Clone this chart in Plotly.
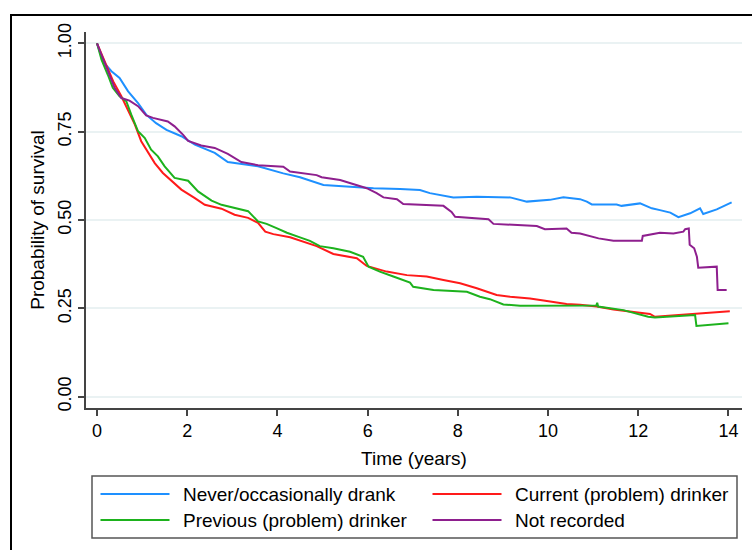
import plotly.graph_objects as go

# Survival estimates by alcohol history (time in years, probability of survival)
never_t = [0.0, 0.13, 0.32, 0.50, 0.69, 0.91, 1.09, 1.31, 1.54, 1.87, 2.17, 2.61, 2.90, 3.27, 3.57,
           4.13, 4.50, 5.02, 5.61, 6.13, 6.72, 7.16, 7.38, 7.90, 8.42, 9.16, 9.53, 10.04, 10.34,
           10.71, 10.86, 10.97, 11.52, 11.63, 12.04, 12.30, 12.48, 12.71, 12.89, 13.15, 13.37,
           13.44, 13.74, 14.07]
never_s = [1.0, 0.949, 0.921, 0.902, 0.864, 0.831, 0.798, 0.774, 0.755, 0.737, 0.713, 0.690, 0.664,
           0.658, 0.652, 0.632, 0.621, 0.599, 0.594, 0.590, 0.588, 0.585, 0.576, 0.564, 0.566,
           0.564, 0.552, 0.557, 0.564, 0.559, 0.552, 0.544, 0.544, 0.540, 0.547, 0.533, 0.528,
           0.521, 0.508, 0.519, 0.533, 0.517, 0.530, 0.550]

current_t = [0.0, 0.17, 0.36, 0.54, 0.69, 0.84, 0.98, 1.13, 1.28, 1.46, 1.65, 1.87, 2.17, 2.39, 2.76,
             3.05, 3.35, 3.57, 3.73, 3.91, 4.28, 4.50, 4.87, 5.24, 5.76, 5.98, 6.42, 6.87, 7.31,
             7.68, 8.05, 8.42, 8.86, 9.16, 9.60, 9.90, 10.41, 10.71, 11.08, 11.45, 11.78, 12.26,
             12.37, 14.03]
current_s = [1.0, 0.949, 0.892, 0.850, 0.812, 0.770, 0.723, 0.690, 0.661, 0.633, 0.610, 0.586, 0.562,
             0.543, 0.532, 0.515, 0.506, 0.492, 0.467, 0.460, 0.451, 0.441, 0.426, 0.404, 0.392,
             0.370, 0.354, 0.344, 0.340, 0.330, 0.321, 0.307, 0.288, 0.283, 0.278, 0.272, 0.262,
             0.260, 0.255, 0.247, 0.241, 0.234, 0.226, 0.242]

previous_t = [0.0, 0.10, 0.24, 0.35, 0.50, 0.65, 0.76, 0.91, 1.06, 1.20, 1.35, 1.50, 1.72, 2.02, 2.24,
              2.54, 2.76, 3.05, 3.35, 3.57, 3.76, 3.98, 4.21, 4.50, 4.72, 4.94, 5.24, 5.61, 5.90,
              6.02, 6.27, 6.57, 6.94, 7.01, 7.46, 8.20, 8.49, 8.71, 9.01, 9.38, 10.41, 11.07,
              11.09, 11.11, 11.67, 11.96, 12.22, 12.37, 12.80, 13.26, 13.29, 13.59, 14.0]
previous_s = [1.0, 0.954, 0.911, 0.874, 0.850, 0.836, 0.798, 0.751, 0.732, 0.699, 0.680, 0.652, 0.619,
              0.611, 0.581, 0.555, 0.543, 0.534, 0.525, 0.496, 0.489, 0.477, 0.464, 0.451, 0.441,
              0.426, 0.420, 0.410, 0.396, 0.368, 0.354, 0.340, 0.323, 0.311, 0.302, 0.297, 0.283,
              0.276, 0.261, 0.257, 0.258, 0.258, 0.266, 0.255, 0.245, 0.234, 0.226, 0.224, 0.227,
              0.231, 0.200, 0.203, 0.208]

notrec_t = [0.0, 0.17, 0.39, 0.54, 0.72, 0.91, 1.09, 1.24, 1.57, 1.72, 1.91, 2.02, 2.31, 2.61, 2.90,
            3.20, 3.57, 4.13, 4.28, 4.87, 4.98, 5.39, 5.68, 5.98, 6.20, 6.35, 6.65, 6.79, 7.68,
            7.86, 7.94, 8.68, 8.79, 9.75, 9.93, 10.41, 10.52, 10.71, 11.12, 11.45, 12.08, 12.10,
            12.48, 12.78, 13.00, 13.04, 13.12, 13.14, 13.24, 13.30, 13.33, 13.74, 13.76, 13.96]
notrec_s = [1.0, 0.944, 0.874, 0.845, 0.838, 0.822, 0.796, 0.789, 0.779, 0.765, 0.741, 0.724, 0.711,
            0.704, 0.687, 0.664, 0.655, 0.651, 0.637, 0.627, 0.621, 0.613, 0.602, 0.590, 0.576,
            0.564, 0.559, 0.545, 0.540, 0.523, 0.509, 0.502, 0.489, 0.483, 0.474, 0.476, 0.464,
            0.462, 0.448, 0.441, 0.441, 0.455, 0.464, 0.462, 0.467, 0.474, 0.476, 0.430, 0.420,
            0.396, 0.365, 0.368, 0.302, 0.302]

series = [
    ("Never/occasionally drank", never_t, never_s, "#1E90FF"),
    ("Current (problem) drinker", current_t, current_s, "#FF1A1A"),
    ("Previous (problem) drinker", previous_t, previous_s, "#1DB21D"),
    ("Not recorded", notrec_t, notrec_s, "#8E1F8E"),
]

y_ticks = [0.0, 0.25, 0.5, 0.75, 1.0]
y_tick_text = ["0.00", "0.25", "0.50", "0.75", "1.00"]
x_ticks = [0, 2, 4, 6, 8, 10, 12, 14]

FONT = "Liberation Sans, Arial, sans-serif"

# Plot-area geometry (pixels) used to place the frame and the key in paper units
W, H = 752, 550
ML, MR, MT, MB = 86, 10, 32, 142
PW, PH = W - ML - MR, H - MT - MB


def px_x(px):
    return (px - ML) / PW


def px_y(py):
    return (H - MB - py) / PH


fig = go.Figure()
for name, t, s, color in series:
    fig.add_trace(go.Scatter(
        x=t, y=s, mode="lines", name=name, showlegend=False,
        line=dict(color=color, width=2),
    ))

fig.update_layout(
    width=W, height=H,
    margin=dict(l=ML, r=MR, t=MT, b=MB, autoexpand=False),
    paper_bgcolor="white", plot_bgcolor="white",
    font=dict(family=FONT, size=18, color="#000000"),
    showlegend=False,
    xaxis=dict(
        range=[-0.244, 14.30], tickvals=x_ticks, showgrid=False, zeroline=False,
        showline=True, linecolor="#444444", linewidth=1.5,
        ticks="outside", ticklen=6, tickcolor="#444444", tickwidth=1.5,
        tickfont=dict(size=18),
        title=dict(text="Time (years)", font=dict(size=19), standoff=11),
    ),
    yaxis=dict(
        range=[-0.032, 1.032], tickvals=y_ticks, ticktext=y_tick_text, tickangle=-90,
        showgrid=True, gridcolor="#EAF2F3", gridwidth=1.5, zeroline=False,
        showline=True, linecolor="#444444", linewidth=1.5,
        ticks="outside", ticklen=6, tickcolor="#444444", tickwidth=1.5,
        tickfont=dict(size=18),
        title=dict(text="Probability of survival", font=dict(size=19), standoff=5),
    ),
)

# Outer frame around the graph region
fig.add_shape(type="rect", xref="paper", yref="paper",
              x0=px_x(11), x1=px_x(800), y0=px_y(600), y1=px_y(15),
              line=dict(color="#000000", width=2), fillcolor="rgba(0,0,0,0)", layer="below")

# Key: two columns, two rows, long line samples inside a bordered box
fig.add_shape(type="rect", xref="paper", yref="paper",
              x0=px_x(92), x1=px_x(737), y0=px_y(538), y1=px_y(476),
              line=dict(color="#555555", width=1.5), fillcolor="white")
key_cols = [100.5, 432.5]
key_rows = [494, 520]
for i, (name, _, _, color) in enumerate(series):
    cx = key_cols[i % 2]
    ry = key_rows[i // 2]
    fig.add_shape(type="line", xref="paper", yref="paper",
                  x0=px_x(cx), x1=px_x(cx + 69), y0=px_y(ry), y1=px_y(ry),
                  line=dict(color=color, width=2))
    fig.add_annotation(xref="paper", yref="paper", x=px_x(cx + 80.5), y=px_y(ry),
                       xanchor="left", yanchor="middle", showarrow=False, text=name,
                       font=dict(family=FONT, size=19, color="#000000"))

fig.write_html("out.html")
